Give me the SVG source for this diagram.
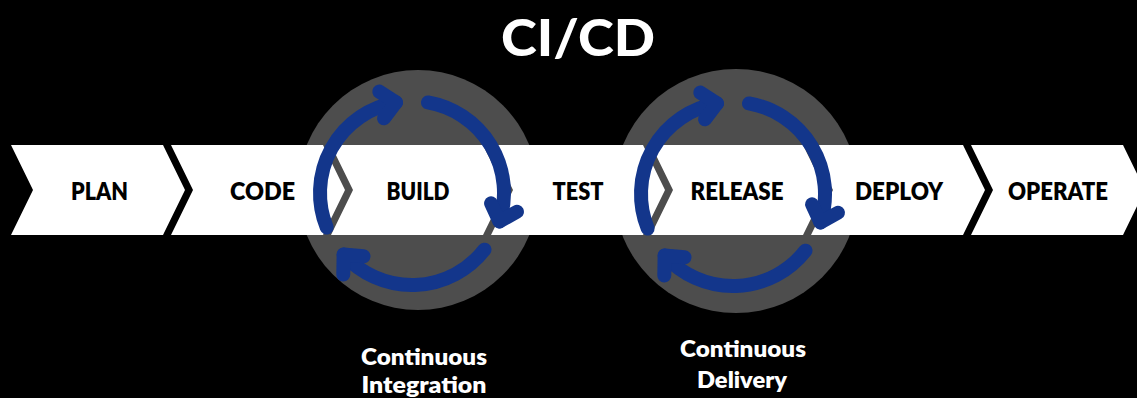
<svg xmlns="http://www.w3.org/2000/svg" width="1137" height="398" viewBox="0 0 1137 398">
  <style>
    .stage { fill: #ffffff; }
    .hub { fill: #4d4d4d; }
    .label { font-family: "Lato", "Liberation Sans", sans-serif; font-weight: 800; font-size: 23.5px; fill: #000000; text-anchor: middle; }
    .caption { font-family: "Lato", "Liberation Sans", sans-serif; font-weight: 800; font-size: 23px; fill: #ffffff; text-anchor: middle; }
    .title { font-family: "Lato", "Liberation Sans", sans-serif; font-weight: 900; font-size: 51px; fill: #ffffff; text-anchor: middle; }
    .loop { fill: none; stroke: #13368b; stroke-width: 14; stroke-linecap: round; }
  </style>
  <defs>
    <marker id="head" markerUnits="userSpaceOnUse" orient="auto" overflow="visible"
            viewBox="-30 -30 40 60" refX="0" refY="0" markerWidth="40" markerHeight="60">
      <path d="M-14.6,-13.6 L0,0 L-14.6,13.6" fill="none" stroke="#13368b" stroke-width="14"
            stroke-linecap="round" stroke-linejoin="round"/>
    </marker>
  </defs>

  <rect x="0" y="0" width="1137" height="398" fill="#000000"/>

  <text class="title" x="578" y="56" textLength="154" lengthAdjust="spacingAndGlyphs">CI/CD</text>

  <!-- grey hubs behind the pipeline band -->
  <g id="ci-hub"><circle class="hub" cx="418" cy="190" r="120"/></g>
  <g id="cd-hub"><circle class="hub" cx="736" cy="191" r="122"/></g>

  <!-- pipeline stages -->
  <g id="plan">
    <polygon class="stage" points="11,145 163,145 185,190 163,235 11,235 33,190"/>
    <text class="label" x="99.5" y="200" textLength="57" lengthAdjust="spacingAndGlyphs">PLAN</text>
  </g>
  <g id="code">
    <polygon class="stage" points="171,145 323,145 345,190 323,235 171,235 193,190"/>
    <text class="label" x="262.5" y="200" textLength="65" lengthAdjust="spacingAndGlyphs">CODE</text>
  </g>
  <g id="build">
    <polygon class="stage" points="331,145 483,145 505,190 483,235 331,235 353,190"/>
    <text class="label" x="418" y="200" textLength="63" lengthAdjust="spacingAndGlyphs">BUILD</text>
  </g>
  <g id="test">
    <polygon class="stage" points="491,145 643,145 665,190 643,235 491,235 513,190"/>
    <text class="label" x="578" y="200" textLength="51" lengthAdjust="spacingAndGlyphs">TEST</text>
  </g>
  <g id="release">
    <polygon class="stage" points="651,145 803,145 825,190 803,235 651,235 673,190"/>
    <text class="label" x="737" y="200" textLength="93" lengthAdjust="spacingAndGlyphs">RELEASE</text>
  </g>
  <g id="deploy">
    <polygon class="stage" points="811,145 963,145 985,190 963,235 811,235 833,190"/>
    <text class="label" x="899" y="200" textLength="88" lengthAdjust="spacingAndGlyphs">DEPLOY</text>
  </g>
  <g id="operate">
    <polygon class="stage" points="971,145 1123,145 1145,190 1123,235 971,235 993,190"/>
    <text class="label" x="1058" y="200" textLength="100" lengthAdjust="spacingAndGlyphs">OPERATE</text>
  </g>

  <!-- circular arrows: three clockwise arcs per loop -->
  <g id="connectors">
    <g id="ci-loop">
      <path class="loop" marker-end="url(#head)" d="M326.7,227.46 A92,92 0 0 1 396.02,102.4"/>
      <path class="loop" marker-end="url(#head)" d="M427.98,102.4 A92,92 0 0 1 499.5,221.43"/>
      <path class="loop" marker-end="url(#head)" d="M484.5,249.64 A92,92 0 0 1 343.63,254.56"/>
    </g>
    <g id="cd-loop">
      <path class="loop" marker-end="url(#head)" d="M647.7,228.46 A92,92 0 0 1 717.02,103.4"/>
      <path class="loop" marker-end="url(#head)" d="M748.98,103.4 A92,92 0 0 1 820.5,222.43"/>
      <path class="loop" marker-end="url(#head)" d="M805.5,250.64 A92,92 0 0 1 664.63,255.56"/>
    </g>
  </g>

  <g id="ci-caption">
    <text class="caption" x="424" y="365" textLength="126" lengthAdjust="spacingAndGlyphs">Continuous</text>
    <text class="caption" x="424" y="393" textLength="125" lengthAdjust="spacingAndGlyphs">Integration</text>
  </g>
  <g id="cd-caption">
    <text class="caption" x="743" y="357" textLength="126" lengthAdjust="spacingAndGlyphs">Continuous</text>
    <text class="caption" x="742" y="388" textLength="90" lengthAdjust="spacingAndGlyphs">Delivery</text>
  </g>
</svg>
